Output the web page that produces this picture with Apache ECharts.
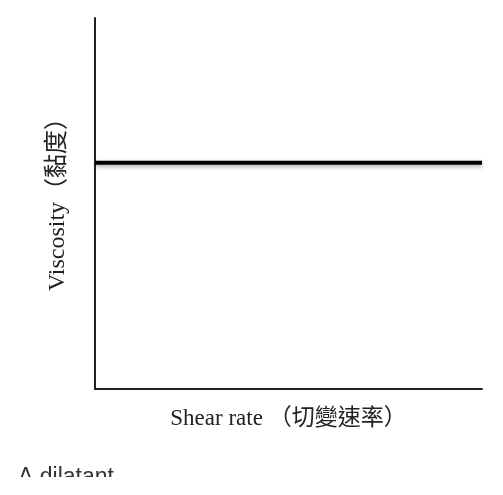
<!DOCTYPE html>
<html>
<head>
<meta charset="utf-8">
<script src="https://cdn.jsdelivr.net/npm/echarts@6/dist/echarts.min.js"></script>
<style>
html,body{margin:0;padding:0;background:#fff;}
#chart{width:503px;height:495px;}
</style>
</head>
<body>
<div id="chart"></div>
<script>
var shearRate = [0, 100];
var viscosity = [61, 61];
var xTitle = 'Shear rate （切變速率）';
var yTitle = 'Viscosity（黏度）';
var caption = 'A dilatant';

var chart = echarts.init(document.getElementById('chart'), null, {renderer: 'canvas'});
var serif = '"Liberation Serif", "Noto Sans CJK TC", serif';
chart.setOption({
  animation: false,
  backgroundColor: '#fff',
  grid: {left: 95, right: 21, top: 18, bottom: 106, containLabel: false},
  xAxis: {
    type: 'value', min: 0, max: 100,
    name: xTitle, nameLocation: 'middle', nameGap: 18,
    nameTextStyle: {fontFamily: serif, fontSize: 23, color: '#222'},
    axisLine: {show: true, lineStyle: {color: '#222', width: 2}},
    axisTick: {show: false}, axisLabel: {show: false}, splitLine: {show: false}
  },
  yAxis: {
    type: 'value', min: 0, max: 100,
    name: yTitle, nameLocation: 'middle', nameGap: 25,
    nameTextStyle: {fontFamily: serif, fontSize: 24, color: '#222', padding: [0, 0, 0, 10]},
    axisLine: {show: true, lineStyle: {color: '#222', width: 2}},
    axisTick: {show: false}, axisLabel: {show: false}, splitLine: {show: false}
  },
  series: [{
    type: 'line',
    data: shearRate.map(function (x, i) { return [x, viscosity[i]]; }),
    symbol: 'none',
    lineStyle: {color: '#000', width: 4, shadowColor: 'rgba(0,0,0,0.35)', shadowBlur: 4, shadowOffsetY: 2},
    clip: false
  }],
  graphic: [
    {type: 'text', left: 18, top: 466, z: 10,
     style: {text: caption, fontFamily: '"Liberation Sans", Arial, sans-serif', fontSize: 23, fill: '#333'}},
    {type: 'rect', left: 0, top: 477, z: 20,
     shape: {width: 503, height: 18}, style: {fill: '#fff'}}
  ]
});
</script>
</body>
</html>
